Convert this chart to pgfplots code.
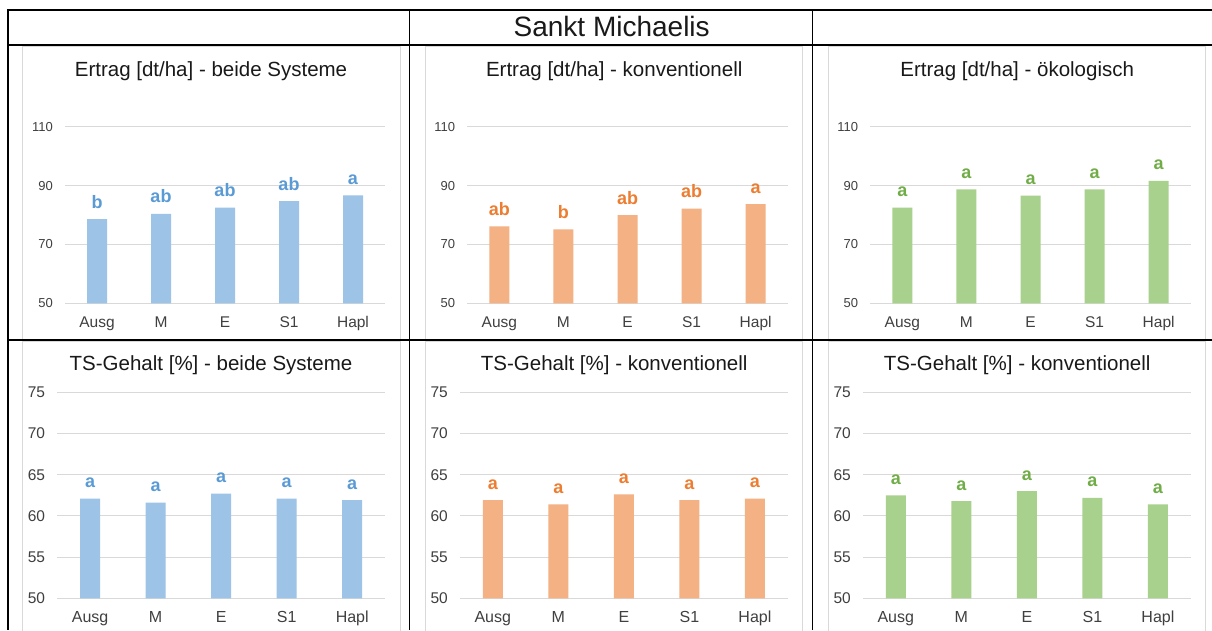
\documentclass[border=0pt]{standalone}
\usepackage{pgfplots}
\pgfplotsset{compat=1.18}
\usepackage{fontspec}
\setmainfont{Liberation Sans}

\definecolor{bluebar}{HTML}{9DC3E6}
\definecolor{bluetxt}{HTML}{5B9BD5}
\definecolor{orangebar}{HTML}{F4B183}
\definecolor{orangetxt}{HTML}{ED7D31}
\definecolor{greenbar}{HTML}{A9D18E}
\definecolor{greentxt}{HTML}{70AD47}
\definecolor{gridgray}{HTML}{D9D9D9}
\definecolor{ticktext}{HTML}{404040}

% common look of the six Excel-style bar charts
\pgfplotsset{
  chart/.style={
    scale only axis, anchor=south west,
    ybar, bar width=20pt, bar shift=0pt,
    xmin=-0.5, xmax=4.5, xtick={0,...,4},
    xticklabels={Ausg,M,E,S1,Hapl},
    axis line style={draw=none}, major tick length=0pt,
    ymajorgrids, grid style={color=gridgray, line width=0.9pt},
    point meta=explicit symbolic, nodes near coords,
    nodes near coords style={anchor=south, inner sep=0pt, yshift=10.5pt,
      font=\fontsize{18}{20}\selectfont\bfseries},
    /pgf/number format/assume math mode=true,
    yticklabel style={anchor=east, inner sep=0pt, xshift=-12pt, text=ticktext},
    xticklabel style={anchor=base, inner sep=0pt, yshift=-24pt, text=ticktext},
  },
  toprow/.style={chart, width=320pt, height=176.6pt, ymin=50, ymax=110,
    ytick={50,70,90,110},
    yticklabel style={font=\fontsize{13}{15}\selectfont},
    xticklabel style={font=\fontsize{15.5}{17}\selectfont}},
  botrow/.style={chart, width=327.7pt, height=206pt, ymin=50, ymax=75,
    ytick={50,55,60,65,70,75},
    yticklabel style={font=\fontsize{15.5}{17}\selectfont},
    xticklabel style={font=\fontsize{16}{18}\selectfont}},
  blue/.style={fill=bluebar, draw=none, nodes near coords style={text=bluetxt}},
  orange/.style={fill=orangebar, draw=none, nodes near coords style={text=orangetxt}},
  green/.style={fill=greenbar, draw=none, nodes near coords style={text=greentxt}},
}

\begin{document}
\begin{tikzpicture}[x=1pt, y=1pt]
\useasboundingbox (0,0) rectangle (1212,630);
\clip (0,0) rectangle (1212,630);
\fill[white] (0,0) rectangle (1212,630);

% chart panels
\draw[gridgray, line width=1pt] (22,583.3) rectangle (400,290.7);
\draw[gridgray, line width=1pt] (425.7,583.3) rectangle (802.7,290.7);
\draw[gridgray, line width=1pt] (828.7,583.3) rectangle (1205.7,290.7);
\draw[gridgray, line width=1pt] (22,288.5) rectangle (400,-20);
\draw[gridgray, line width=1pt] (425.7,288.5) rectangle (802.7,-20);
\draw[gridgray, line width=1pt] (828.7,288.5) rectangle (1205.7,-20);

% titles
\node[anchor=base, text=black!90, font=\fontsize{28}{32}\selectfont] at (611.7,593.3) {Sankt Michaelis};
\begin{scope}[every node/.style={anchor=base, text=black!90, font=\fontsize{20.5}{24}\selectfont}]
\node at (211,553.7) {Ertrag [dt/ha] - beide Systeme};
\node at (614.2,553.7) {Ertrag [dt/ha] - konventionell};
\node at (1017.2,553.7) {Ertrag [dt/ha] - ökologisch};
\node at (211,259.3) {TS-Gehalt [\%] - beide Systeme};
\node at (614.2,259.3) {TS-Gehalt [\%] - konventionell};
\node at (1017.2,259.3) {TS-Gehalt [\%] - konventionell};
\end{scope}

% Ertrag
\begin{axis}[toprow, at={(65pt,326.7pt)}]
\addplot[blue] coordinates {(0,78.6) [b] (1,80.4) [ab] (2,82.5) [ab] (3,84.7) [ab] (4,86.7) [a]};
\end{axis}
\begin{axis}[toprow, at={(467.3pt,326.7pt)}, width=320.4pt]
\addplot[orange] coordinates {(0,76.1) [ab] (1,75.1) [b] (2,80.0) [ab] (3,82.2) [ab] (4,83.7) [a]};
\end{axis}
\begin{axis}[toprow, at={(870.3pt,326.7pt)}, width=320.4pt]
\addplot[green] coordinates {(0,82.5) [a] (1,88.7) [a] (2,86.6) [a] (3,88.7) [a] (4,91.6) [a]};
\end{axis}

% TS-Gehalt
\begin{axis}[botrow, at={(57.3pt,31.7pt)}]
\addplot[blue] coordinates {(0,62.1) [a] (1,61.6) [a] (2,62.7) [a] (3,62.1) [a] (4,61.9) [a]};
\end{axis}
\begin{axis}[botrow, at={(460pt,31.7pt)}]
\addplot[orange] coordinates {(0,61.9) [a] (1,61.4) [a] (2,62.6) [a] (3,61.9) [a] (4,62.1) [a]};
\end{axis}
\begin{axis}[botrow, at={(863pt,31.7pt)}]
\addplot[green] coordinates {(0,62.5) [a] (1,61.8) [a] (2,63.0) [a] (3,62.2) [a] (4,61.4) [a]};
\end{axis}

% table rules
\begin{scope}[line width=1.3pt]
\draw (8,620) -- (1212,620);
\draw (8,585) -- (1212,585);
\draw (8,290) -- (1212,290);
\draw (8,620.65) -- (8,0);
\draw (409.5,620.65) -- (409.5,0);
\draw (812.3,620.65) -- (812.3,0);
\end{scope}
\end{tikzpicture}
\end{document}
